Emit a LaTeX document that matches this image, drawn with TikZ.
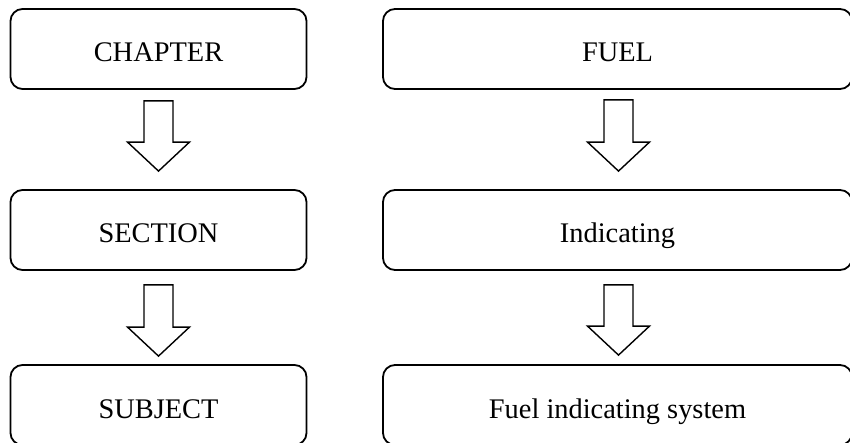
\documentclass[tikz,border=0pt]{standalone}
\usepackage{fontspec}
\setmainfont{Liberation Serif}
\usetikzlibrary{calc}
\tikzset{
  stepbox/.style={draw, line width=1.8pt, rounded corners=12pt, inner sep=0pt,
    minimum height=80pt, text height=26pt, text depth=0pt,
    font=\fontsize{28.4}{34}\selectfont},
  leftbox/.style={stepbox, minimum width=296pt},
  rightbox/.style={stepbox, minimum width=469pt},
  blockarr/.style={draw, line width=1.4pt, fill=white, line join=miter},
}
% hollow block arrow from a top point (#1) down to a tip point (#2)
\newcommand{\blockarrow}[2]{%
  \draw[blockarr] let \p1=(#1), \p2=(#2) in
    (\x1-14.5pt,\y1) -- (\x1+14.5pt,\y1) -- (\x1+14.5pt,\y2+29pt)
    -- (\x1+31pt,\y2+29pt) -- (\x1,\y2) -- (\x1-31pt,\y2+29pt)
    -- (\x1-14.5pt,\y2+29pt) -- cycle;}
\begin{document}
\begin{tikzpicture}[x=1pt, y=-1pt]
  \useasboundingbox (0,0) rectangle (850,443);
  \clip (0,0) rectangle (850,443);
  % left column
  \node[leftbox] (chap) at (158.5,49)  {CHAPTER};
  \node[leftbox] (sec)  at (158.5,230) {SECTION};
  \node[leftbox] (subj) at (158.5,405) {SUBJECT};
  % right column
  \node[rightbox] (fuel) at (617.5,49)  {FUEL};
  \node[rightbox] (ind)  at (617.5,230) {Indicating};
  \node[rightbox] (fis)  at (617.5,405) {Fuel indicating system};
  % arrow end points
  \coordinate (l1s) at ($(chap.south)+(0,11)$);
  \coordinate (l1e) at ($(sec.north)+(0,-18)$);
  \coordinate (l2s) at ($(sec.south)+(0,14)$);
  \coordinate (l2e) at ($(subj.north)+(0,-8)$);
  \coordinate (r1s) at ($(fuel.south)+(1,10)$);
  \coordinate (r1e) at ($(ind.north)+(1,-18)$);
  \coordinate (r2s) at ($(ind.south)+(1,14)$);
  \coordinate (r2e) at ($(fis.north)+(1,-9)$);
  \blockarrow{l1s}{l1e}
  \blockarrow{l2s}{l2e}
  \blockarrow{r1s}{r1e}
  \blockarrow{r2s}{r2e}
\end{tikzpicture}
\end{document}
